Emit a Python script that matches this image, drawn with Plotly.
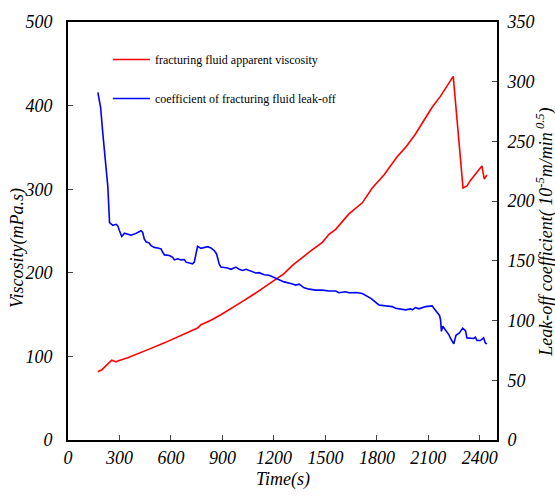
import plotly.graph_objects as go

# Apparent viscosity of the fracturing fluid (left axis, mPa.s)
visc_time = [174, 197, 225, 255, 281, 290, 348, 420, 484, 562, 620, 678, 755, 775,
             830, 891, 950, 1008, 1085, 1153, 1211, 1259, 1308, 1350, 1405, 1482,
             1521, 1560, 1637, 1715, 1773, 1841, 1918, 1967, 2025, 2070, 2122, 2170,
             2209, 2245, 2302, 2325, 2345, 2380, 2412, 2426, 2441]
visc_value = [81.6, 84.0, 89.5, 95.4, 93.4, 94.6, 98.5, 104.0, 109.6, 116.2, 121.5,
              126.9, 134.0, 137.9, 143.0, 149.8, 157.0, 164.7, 174.6, 184.4, 193.0,
              199.0, 208.8, 216.0, 224.6, 236.4, 246.0, 252.0, 270.5, 283.7, 301.4,
              317.0, 338.9, 350.0, 366.0, 381.0, 398.0, 411.0, 423.5, 435.0, 301.4,
              304.0, 310.5, 319.0, 327.8, 312.0, 317.0]

# Leak-off coefficient (right axis, 10^-5 m/min^0.5)
leak_time = [174, 190, 203, 213, 223, 232, 242, 261, 281, 290, 300, 313, 329, 348,
             368, 387, 406, 426, 435, 445, 455, 474, 484, 503, 523, 542, 552, 562,
             591, 610, 620, 639, 659, 678, 688, 707, 726, 736, 746, 755, 775, 794,
             813, 833, 852, 866, 881, 891, 930, 950, 979, 998, 1017, 1037, 1066,
             1095, 1114, 1143, 1172, 1192, 1211, 1259, 1298, 1327, 1347, 1376, 1405,
             1444, 1482, 1521, 1560, 1579, 1618, 1637, 1680, 1715, 1765, 1785, 1812,
             1851, 1890, 1909, 1948, 1967, 1996, 2006, 2025, 2045, 2084, 2122, 2132,
             2151, 2165, 2171, 2176, 2184, 2200, 2219, 2228, 2248, 2261, 2281, 2300,
             2316, 2325, 2364, 2374, 2384, 2403, 2422, 2432, 2441]
leak_value = [291.0, 278.6, 256.5, 240.0, 226.0, 212.4, 182.0, 179.8, 180.6, 179.3,
              175.2, 170.4, 173.2, 172.4, 171.5, 172.4, 173.8, 175.2, 173.8, 168.2,
              166.0, 164.9, 162.7, 161.3, 160.8, 160.0, 157.2, 155.0, 154.5, 153.0,
              150.8, 151.7, 150.8, 151.1, 148.9, 148.1, 147.5, 148.9, 157.2, 162.2,
              160.5, 161.1, 161.9, 160.8, 158.6, 155.8, 147.5, 144.8, 144.0, 142.9,
              144.8, 142.9, 142.0, 142.9, 141.2, 139.8, 140.1, 138.4, 137.9, 136.5,
              135.1, 132.4, 131.0, 129.7, 130.5, 127.4, 126.3, 125.5, 125.5, 124.7,
              124.7, 123.3, 124.1, 123.3, 123.5, 122.7, 118.6, 116.4, 113.1, 112.3,
              111.7, 110.3, 109.8, 109.0, 109.8, 109.0, 110.9, 109.8, 111.7, 112.3,
              110.3, 106.2, 104.3, 100.7, 91.0, 95.2, 92.4, 88.3, 85.5, 80.5, 87.7,
              89.6, 93.7, 91.6, 85.5, 85.0, 86.0, 83.3, 83.3, 85.5, 81.3, 80.5]

x_ticks = [0, 300, 600, 900, 1200, 1500, 1800, 2100, 2400]
y_left_ticks = [0, 100, 200, 300, 400, 500]
y_right_ticks = [0, 50, 100, 150, 200, 250, 300, 350]


def italic_labels(values):
    return [f"<i>{v}</i>" for v in values]


SERIF = "Liberation Serif"
tick_font = dict(family=SERIF, size=18, color="black")
title_font = dict(family=SERIF, size=18, color="black")

fig = go.Figure()
fig.add_trace(go.Scatter(
    x=visc_time, y=visc_value, mode="lines", yaxis="y",
    name="fracturing fluid apparent viscosity", legendgroup="a",
    line=dict(color="#ff0000", width=1.6)))
fig.add_trace(go.Scatter(
    x=leak_time, y=leak_value, mode="lines", yaxis="y2",
    name="coefficient of fracturing fluid leak-off", legendgroup="b",
    line=dict(color="#0000ff", width=1.6)))

axis_common = dict(showgrid=False, zeroline=False, ticks="inside", ticklen=5,
                   tickwidth=1, tickcolor="#444", linecolor="black", linewidth=2,
                   showline=True, tickfont=tick_font)

fig.update_layout(
    width=555, height=502,
    margin=dict(l=68, r=58, t=17, b=62),
    paper_bgcolor="white", plot_bgcolor="white",
    font=dict(family=SERIF, color="black"),
    xaxis=dict(range=[0, 2500], tickvals=x_ticks, ticktext=italic_labels(x_ticks),
               mirror=True, ticklabelstandoff=0, **axis_common),
    yaxis=dict(range=[0, 500], tickvals=y_left_ticks,
               ticktext=italic_labels(y_left_ticks),
               ticklabelstandoff=10, **axis_common),
    yaxis2=dict(range=[0, 350], tickvals=y_right_ticks,
                ticktext=italic_labels(y_right_ticks), overlaying="y",
                side="right", ticklabelstandoff=5, **axis_common),
    showlegend=True,
    legend=dict(x=0.093, y=0.945, xanchor="left", yanchor="top",
                bgcolor="rgba(0,0,0,0)", traceorder="grouped", itemwidth=37,
                tracegroupgap=20, font=dict(family=SERIF, size=12, color="black")),
    annotations=[
        dict(text="<i>Time(s)</i>", x=0.501, y=-0.094, xref="paper", yref="paper",
             xanchor="center", yanchor="middle", showarrow=False, font=title_font),
        dict(text="<i>Viscosity(mPa.s)</i>", x=-0.119, y=0.459, xref="paper",
             yref="paper", xanchor="center", yanchor="middle", textangle=-90,
             showarrow=False, font=title_font),
        dict(text="<i>Leak-off coefficient( 10<sup>-5</sup>m/min<sup> 0.5</sup>)</i>",
             x=1.112, y=0.496, xref="paper", yref="paper", xanchor="center",
             yanchor="middle", textangle=-90, showarrow=False, font=title_font),
    ],
)

fig.write_html("out.html")
